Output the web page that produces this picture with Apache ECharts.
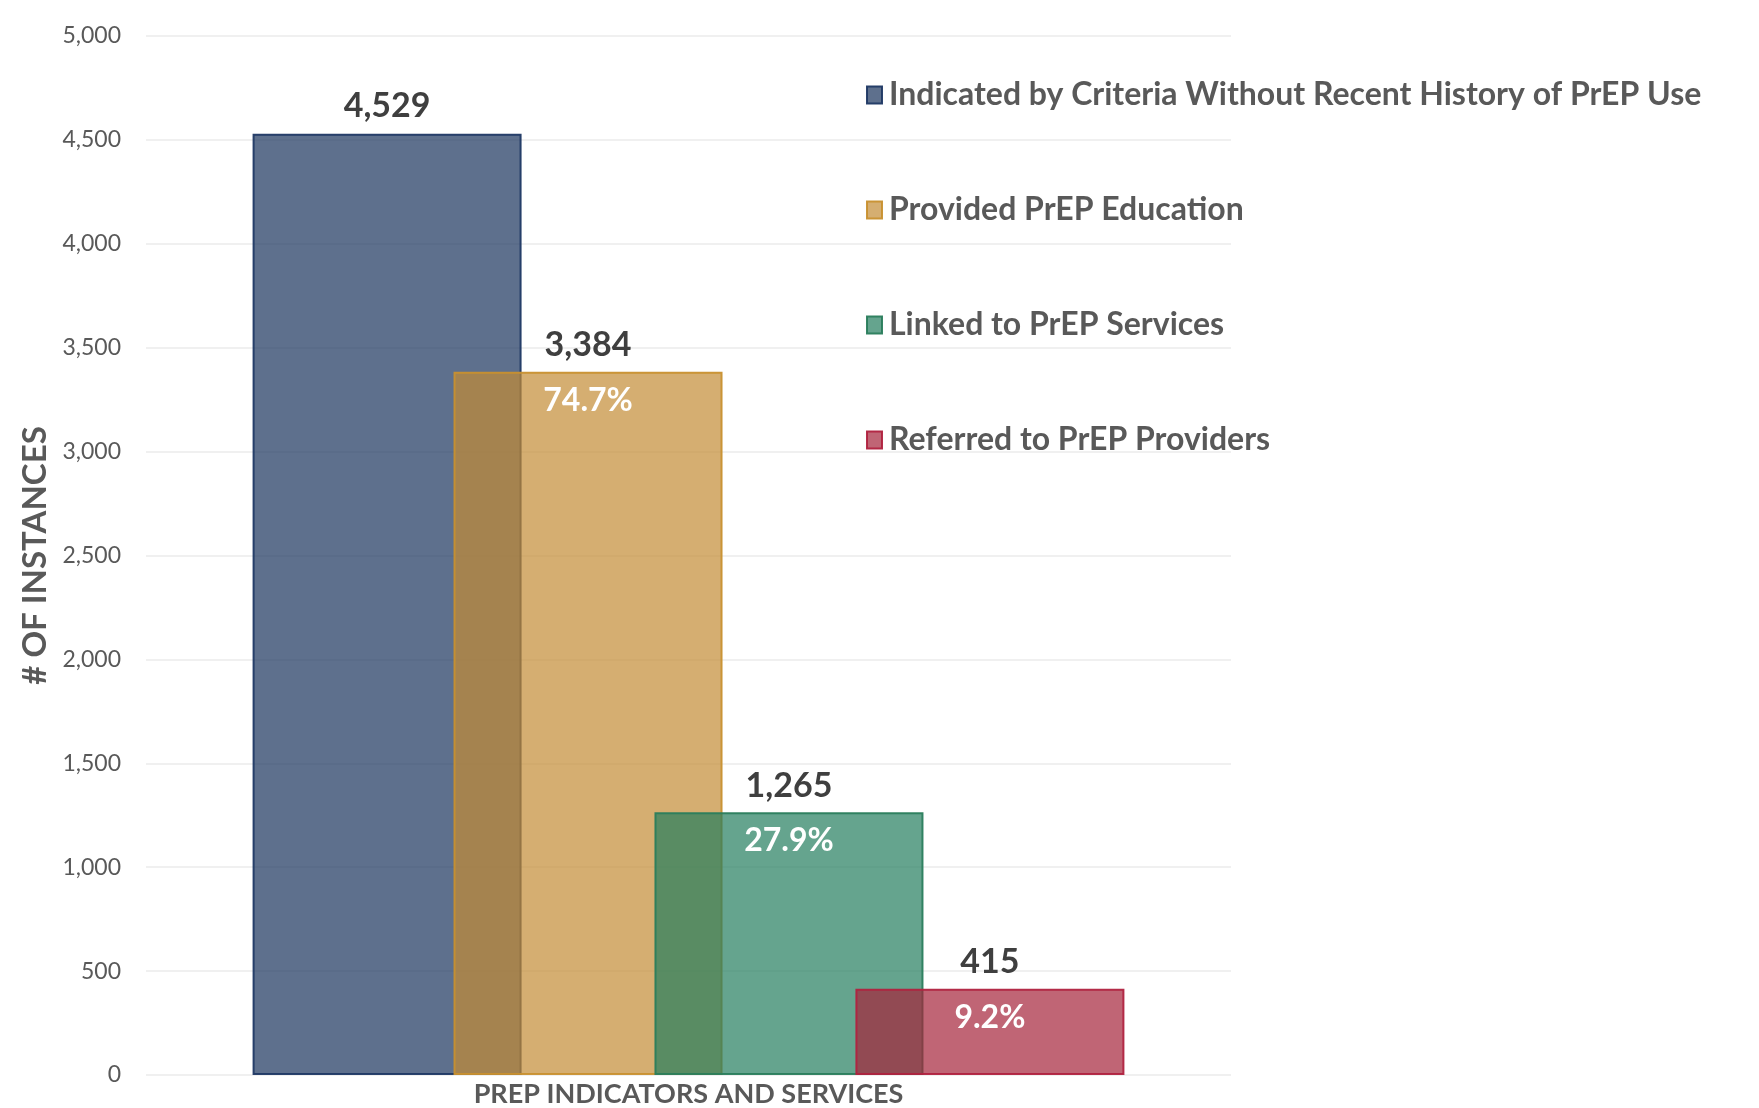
<!DOCTYPE html>
<html>
<head>
<meta charset="utf-8">
<script src="https://cdn.jsdelivr.net/npm/echarts@6/dist/echarts.min.js"></script>
<style>
html,body{margin:0;padding:0;background:#fff;}
#main{width:1759px;height:1108px;}
</style>
</head>
<body>
<div id="main"></div>
<script>
var categories = ['PREP INDICATORS AND SERVICES'];
var seriesNames = [
  'Indicated by Criteria Without Recent History of PrEP Use',
  'Provided PrEP Education',
  'Linked to PrEP Services',
  'Referred to PrEP Providers'
];
var seriesValues = [4529, 3384, 1265, 415];
var percentLabels = ['', '74.7%', '27.9%', '9.2%'];
var yTicks = {min: 0, max: 5000, interval: 500};

var fills = ['rgba(26,51,92,0.7)', 'rgba(195,139,52,0.7)', 'rgba(35,125,94,0.7)', 'rgba(165,36,59,0.7)'];
var borders = ['rgba(31,56,100,0.95)', 'rgba(200,144,47,0.95)', 'rgba(42,125,92,0.95)', 'rgba(176,34,63,0.95)'];
var FONT = 'Lato, "Open Sans", sans-serif';

function fmt(n){ return n.toString().replace(/\B(?=(\d{3})+(?!\d))/g, ','); }

var series = seriesNames.map(function(name, i){
  var hasPct = percentLabels[i] !== '';
  return {
    name: name,
    type: 'bar',
    barWidth: 269,
    barGap: '-25.3%',
    data: [seriesValues[i]],
    itemStyle: {color: fills[i], borderColor: borders[i], borderWidth: 2},
    label: {
      show: true,
      position: 'top',
      distance: 0,
      offset: hasPct ? [0, 56] : [0, 0],
      fontFamily: FONT,
      formatter: function(p){
        var s = '{v|' + fmt(p.value) + '}';
        if (hasPct) s += '\n{p|' + percentLabels[i] + '}';
        return s;
      },
      rich: {
        v: {fontFamily: FONT, fontSize: 34, fontWeight: 'bold', color: '#3f3f3f', lineHeight: 55, align: 'center'},
        p: {fontFamily: FONT, fontSize: 32, fontWeight: 'bold', color: '#ffffff', lineHeight: 55, align: 'center'}
      }
    },
    emphasis: {disabled: true}
  };
});

var chart = echarts.init(document.getElementById('main'), null, {renderer: 'canvas'});
chart.setOption({
  animation: false,
  backgroundColor: '#ffffff',
  grid: {left: 146, right: 528, top: 36, bottom: 32, containLabel: false},
  legend: {
    orient: 'vertical',
    left: 861,
    top: 74,
    itemWidth: 15,
    itemHeight: 17,
    itemGap: 83,
    icon: 'rect',
    selectedMode: false,
    data: seriesNames.map(function(n, i){
      return {name: n, itemStyle: {color: fills[i], borderColor: borders[i], borderWidth: 2}};
    }),
    textStyle: {fontFamily: FONT, fontSize: 32, fontWeight: 'bold', color: '#595959', padding: [0, 0, 0, 2]}
  },
  xAxis: {
    type: 'category',
    data: categories,
    axisLine: {show: false},
    axisTick: {show: false},
    axisLabel: {fontFamily: FONT, fontSize: 27, fontWeight: 'bold', color: '#595959', margin: 6}
  },
  yAxis: {
    type: 'value',
    min: yTicks.min,
    max: yTicks.max,
    interval: yTicks.interval,
    name: '# OF INSTANCES',
    nameLocation: 'middle',
    nameGap: 82,
    nameTextStyle: {fontFamily: FONT, fontSize: 33, fontWeight: 'bold', color: '#595959'},
    axisLine: {show: false},
    axisTick: {show: false},
    splitLine: {lineStyle: {color: '#ebebeb', width: 1.5}},
    axisLabel: {fontFamily: FONT, fontSize: 23, color: '#595959', margin: 25, formatter: function(v){ return fmt(v); }}
  },
  series: series
});
</script>
</body>
</html>
